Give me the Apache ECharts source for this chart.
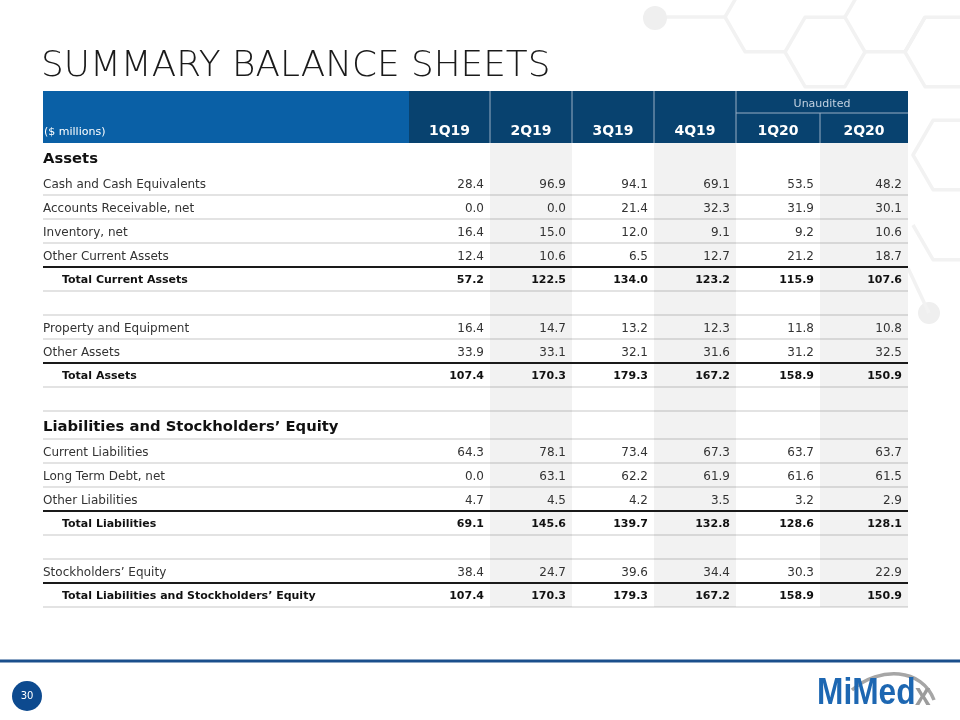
<!DOCTYPE html>
<html><head><meta charset="utf-8">
<script src="https://cdn.jsdelivr.net/npm/echarts@6/dist/echarts.min.js"></script>
<style>html,body{margin:0;padding:0;background:#fff}#c{width:960px;height:720px}</style>
</head><body><div id="c"></div>
<script>
// ---------------- DATA ----------------
const quarters = ['1Q19','2Q19','3Q19','4Q19','1Q20','2Q20'];
const unauditedLabel = 'Unaudited';
const unauditedQuarters = ['1Q20','2Q20'];
const unitLabel = '($ millions)';
const rowLabels = ['Assets','Cash and Cash Equivalents','Accounts Receivable, net','Inventory, net','Other Current Assets','Total Current Assets','','Property and Equipment','Other Assets','Total Assets','','Liabilities and Stockholders’ Equity','Current Liabilities','Long Term Debt, net','Other Liabilities','Total Liabilities','','Stockholders’ Equity','Total Liabilities and Stockholders’ Equity'];
const rowTypes = ['section','item','item','item','item','total','blank','item','item','total','blank','section','item','item','item','total','blank','item','total'];
const cashEquivalents   = [28.4, 96.9, 94.1, 69.1, 53.5, 48.2];
const accountsReceivable= [0.0, 0.0, 21.4, 32.3, 31.9, 30.1];
const inventory         = [16.4, 15.0, 12.0, 9.1, 9.2, 10.6];
const otherCurrentAssets= [12.4, 10.6, 6.5, 12.7, 21.2, 18.7];
const totalCurrentAssets= [57.2, 122.5, 134.0, 123.2, 115.9, 107.6];
const propertyEquipment = [16.4, 14.7, 13.2, 12.3, 11.8, 10.8];
const otherAssets       = [33.9, 33.1, 32.1, 31.6, 31.2, 32.5];
const totalAssets       = [107.4, 170.3, 179.3, 167.2, 158.9, 150.9];
const currentLiabilities= [64.3, 78.1, 73.4, 67.3, 63.7, 63.7];
const longTermDebt      = [0.0, 63.1, 62.2, 61.9, 61.6, 61.5];
const otherLiabilities  = [4.7, 4.5, 4.2, 3.5, 3.2, 2.9];
const totalLiabilities  = [69.1, 145.6, 139.7, 132.8, 128.6, 128.1];
const stockholdersEquity= [38.4, 24.7, 39.6, 34.4, 30.3, 22.9];
const totalLiabEquity   = [107.4, 170.3, 179.3, 167.2, 158.9, 150.9];
const rowValues = [null, cashEquivalents, accountsReceivable, inventory, otherCurrentAssets, totalCurrentAssets, null,
  propertyEquipment, otherAssets, totalAssets, null, null, currentLiabilities, longTermDebt, otherLiabilities,
  totalLiabilities, null, stockholdersEquity, totalLiabEquity];
const rowBorders = ['none','light','light','light','dark','light','light','light','dark','light','light','light','light','light','dark','light','light','dark','light'];

// ---------------- LAYOUT / STYLE ----------------
const FONT = 'DejaVu Sans';
const colEdges = [0, 366, 447, 529, 611, 693, 777, 865];
const headerH = 52, subHeaderH = 22;
const rowH = {section: 28, item: 24, total: 24, blank: 24};
const rowTop = []; let acc = headerH;
rowTypes.forEach(t => { rowTop.push(acc); acc += rowH[t]; });
const tableH = acc;
const NAVY = '#08426f', BLUE = '#0a60a6';
const TXT_DY = 1.5;

function rectOf(api, x0, x1, y0, y1) {
  const a = api.coord([x0, y0]), b = api.coord([x1, y1]);
  return {x: a[0], y: a[1], width: b[0] - a[0], height: b[1] - a[1]};
}

// decorative honeycomb (flat-top hexagons)
const HS = 40, HH = 40 * 0.866;
function hv(cx, cy) { // left, bottom-left, bottom-right, right, top-right, top-left
  return [[cx - HS, cy], [cx - HS / 2, cy + HH], [cx + HS / 2, cy + HH], [cx + HS, cy], [cx + HS / 2, cy - HH], [cx - HS / 2, cy - HH]];
}
const hA = hv(765, 17), hB = hv(825, 52), hC = hv(885, 17), hD = hv(945, 52), hE = hv(953, 155), hF = hv(953, 225);
const decoLines = [
  [[667, 17], hA[0]],
  [hA[5], hA[0], hA[1], hA[2]],
  [hB[0], hB[1], hB[2], hB[3], hB[4], hB[5], hB[0]],
  [hC[5], hC[0]],
  [hC[1], hC[2], hC[3]],
  [hD[4], hD[5], hD[0], hD[1], hD[2]],
  [hE[4], hE[5], hE[0], hE[1], hE[2]],
  [hF[0], hF[1], hF[2]],
  [[908, 268], [929, 313]]
];
const decoStyle = {stroke: '#f2f2f2', lineWidth: 3.5, fill: null, lineJoin: 'round'};

const shadeData = quarters.map((q, i) => i).filter(i => i % 2 === 1);
const headerData = [[-1]].concat(quarters.map((q, i) => [i]));
const valueData = [];
rowValues.forEach((vals, r) => { if (vals) vals.forEach((v, c) => valueData.push([c, r, v])); });
const labelData = rowLabels.map((l, r) => [r]);
const unaudIdx = unauditedQuarters.map(q => quarters.indexOf(q));

const option = {
  animation: false,
  title: {
    text: 'SUMMARY BALANCE SHEETS', left: 41, top: 49, padding: 0,
    textStyle: {fontFamily: FONT, fontWeight: 200, fontSize: 35.8, color: '#1a1a1a'}
  },
  grid: {left: 43, top: 91, width: 865, height: tableH, containLabel: false},
  xAxis: {type: 'value', min: 0, max: 865, show: false},
  yAxis: {type: 'value', min: 0, max: tableH, inverse: true, show: false},
  graphic: [
    {type: 'group', silent: true, z: -10, children: [
      {type: 'circle', shape: {cx: 655, cy: 18, r: 12}, style: {fill: '#efefef'}},
      {type: 'circle', shape: {cx: 929, cy: 313, r: 11}, style: {fill: '#efefef'}}
    ].concat(decoLines.map(pts => ({type: 'polyline', shape: {points: pts}, style: decoStyle})))},
    // footer
    {type: 'line', shape: {x1: 0, y1: 661, x2: 960, y2: 661}, style: {stroke: '#1a4f8c', lineWidth: 3}},
    {type: 'circle', shape: {cx: 27, cy: 696, r: 15}, style: {fill: '#0d4a8f'}},
    {type: 'text', x: 27, y: 696, style: {text: '30', fill: '#fff', font: '10px ' + FONT, align: 'center', verticalAlign: 'middle'}},
    // logo
    {type: 'bezierCurve', shape: {x1: 852, y1: 690, cpx1: 880, cpy1: 666, cpx2: 922, cpy2: 668, x2: 934, y2: 700}, style: {stroke: '#a6a6a6', lineWidth: 3.5, fill: null}},
    {type: 'text', x: 817, y: 712, scaleX: 0.88, style: {text: 'MiMed', fill: '#1d67b2', font: 'bold 36px "Liberation Sans"', align: 'left', verticalAlign: 'bottom'}},
    {type: 'text', x: 915, y: 712, scaleX: 0.88, style: {text: 'x', fill: '#9c9c9c', font: 'bold 32px "Liberation Sans"', align: 'left', verticalAlign: 'bottom'}}
  ],
  series: [
    { // alternate column shading
      type: 'custom', coordinateSystem: 'cartesian2d', clip: false, z: 1, silent: true,
      data: shadeData,
      renderItem: (params, api) => {
        const c = api.value(0) + 1;
        return {type: 'rect', shape: rectOf(api, colEdges[c], colEdges[c + 1], headerH, tableH), style: {fill: '#f2f2f2'}};
      }
    },
    { // header cells
      type: 'custom', coordinateSystem: 'cartesian2d', clip: false, z: 2, silent: true,
      data: headerData,
      renderItem: (params, api) => {
        const i = api.value(0);
        const c = i + 1;
        const r = rectOf(api, colEdges[c], colEdges[c + 1], 0, headerH);
        const children = [{type: 'rect', shape: r, style: {fill: i < 0 ? BLUE : NAVY}}];
        if (i < 0) {
          children.push({type: 'text', x: r.x + 1, y: r.y + 41, style: {text: unitLabel, fill: '#fff', font: '11px ' + FONT, align: 'left', verticalAlign: 'middle'}});
        } else {
          children.push({type: 'text', x: r.x + r.width / 2, y: r.y + 40, style: {text: quarters[i], fill: '#fff', font: 'bold 14px ' + FONT, align: 'center', verticalAlign: 'middle'}});
          if (i > 0) {
            const top = unaudIdx.includes(i) && unaudIdx.includes(i - 1) ? subHeaderH : 0;
            const a = api.coord([colEdges[c], top]);
            children.push({type: 'line', shape: {x1: a[0], y1: a[1], x2: a[0], y2: r.y + r.height}, style: {stroke: '#97adc4', lineWidth: 1}});
          }
        }
        return {type: 'group', children};
      }
    },
    { // unaudited group header
      type: 'custom', coordinateSystem: 'cartesian2d', clip: false, z: 3, silent: true,
      data: [[unaudIdx[0], unaudIdx[unaudIdx.length - 1]]],
      renderItem: (params, api) => {
        const c0 = api.value(0) + 1, c1 = api.value(1) + 2;
        const r = rectOf(api, colEdges[c0], colEdges[c1], 0, subHeaderH);
        return {type: 'group', children: [
          {type: 'text', x: r.x + r.width / 2, y: r.y + r.height / 2 + 2, style: {text: unauditedLabel, fill: '#c3d2e1', font: '11px ' + FONT, align: 'center', verticalAlign: 'middle'}},
          {type: 'line', shape: {x1: r.x, y1: r.y + r.height, x2: r.x + r.width, y2: r.y + r.height}, style: {stroke: '#97adc4', lineWidth: 1}}
        ]};
      }
    },
    { // row borders
      type: 'custom', coordinateSystem: 'cartesian2d', clip: false, z: 4, silent: true,
      data: labelData,
      renderItem: (params, api) => {
        const r = api.value(0);
        const kind = rowBorders[r];
        if (kind === 'none') return null;
        const y = rowTop[r] + rowH[rowTypes[r]];
        const a = api.coord([0, y]), b = api.coord([865, y]);
        return {type: 'line', shape: {x1: a[0], y1: a[1], x2: b[0], y2: b[1]},
          style: {stroke: kind === 'dark' ? '#1a1a1a' : 'rgba(0,0,0,0.11)', lineWidth: 2}};
      }
    },
    { // row labels
      type: 'custom', coordinateSystem: 'cartesian2d', clip: false, z: 5, silent: true,
      data: labelData,
      renderItem: (params, api) => {
        const r = api.value(0);
        const t = rowTypes[r];
        if (t === 'blank') return null;
        const yc = rowTop[r] + rowH[t] / 2 + TXT_DY + (t === 'section' ? 0.5 : 0);
        const p = api.coord([t === 'total' ? 19 : 0, yc]);
        let font = '12px ' + FONT, fill = '#333';
        if (t === 'section') { font = 'bold 14.8px ' + FONT; fill = '#111'; }
        if (t === 'total') { font = 'bold 11px ' + FONT; fill = '#111'; }
        return {type: 'text', x: p[0], y: p[1], style: {text: rowLabels[r], font, fill, align: 'left', verticalAlign: 'middle'}};
      }
    },
    { // values
      type: 'custom', coordinateSystem: 'cartesian2d', clip: false, z: 5, silent: true,
      data: valueData,
      renderItem: (params, api) => {
        const c = api.value(0), r = api.value(1), v = api.value(2);
        const t = rowTypes[r];
        const p = api.coord([colEdges[c + 2] - 6, rowTop[r] + rowH[t] / 2 + TXT_DY]);
        const bold = t === 'total';
        return {type: 'text', x: p[0], y: p[1], style: {text: v.toFixed(1), font: (bold ? 'bold 11px ' : '12px ') + FONT, fill: bold ? '#111' : '#333', align: 'right', verticalAlign: 'middle'}};
      }
    }
  ]
};
const chart = echarts.init(document.getElementById('c'), null, {renderer: 'canvas'});
chart.setOption(option);
</script></body></html>
